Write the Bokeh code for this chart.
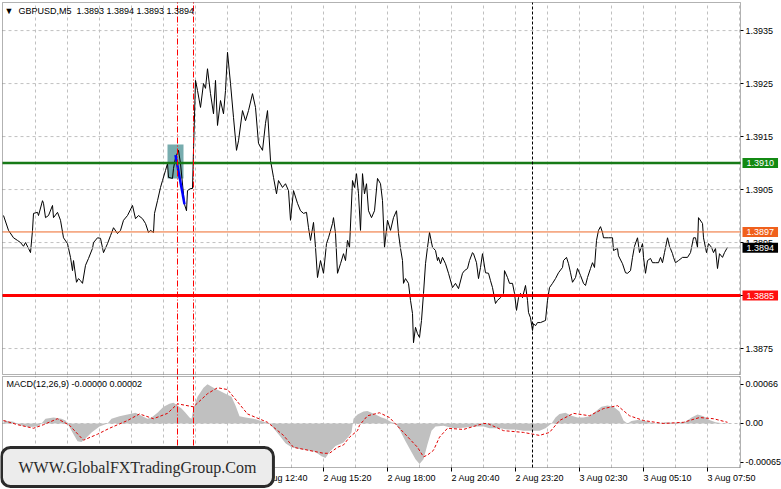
from bokeh.plotting import figure
from bokeh.layouts import column
from bokeh.models import Range1d, FixedTicker, Label, BoxAnnotation, NumeralTickFormatter
from bokeh.embed import file_html
from bokeh.resources import INLINE

# ---------------- data ----------------
price_bar = [0, 2.5, 5, 7, 8.5, 10, 11, 12.5, 13.5, 14.5, 15, 17, 17.5, 19.5, 20, 21, 22.5, 24.5, 25, 27,
             28.5, 30, 32, 33.5, 34.5, 35, 36.5, 37.5, 38.5, 39.5, 41, 42.5, 44.5, 45, 47, 48.5, 50, 52, 53.5, 55,
             57, 58.5, 60, 62, 64.5, 66, 67.5, 69.5, 71, 72.5, 73.5, 75, 75.5, 77, 78.5, 79.5, 81, 82, 82.5, 84.5,
             85, 86, 87.5, 88.5, 90.5, 91.5, 92, 93.5, 94.5, 95, 96, 97, 98.5, 100, 101, 102, 103.5, 105, 106, 107,
             108.5, 110, 111, 112, 113.5, 115, 116.5, 117.5, 119.5, 121, 122.5, 124.5, 126, 127.5, 129.5, 131, 132,
             133.5, 135, 136.5, 137.5, 139.5, 141, 142.5, 143.5, 145, 147, 148.5, 150, 151.5, 152.5, 153.5, 155, 156,
             157, 158.5, 160, 161.5, 162.5, 164.5, 165, 166, 167, 168.5, 170, 171, 172, 173, 174.5, 175.5, 176.5,
             177.5, 178.5, 179.5, 180.5, 181.5, 182.5, 184, 185.5, 187, 188.5, 189.5, 190.5, 192, 193.5, 195, 196.5,
             197.5, 198.5, 199.5, 200, 201, 202.5, 203.5, 204.5, 205, 206, 207, 208, 209, 210, 211, 212, 213, 214.5,
             216, 217, 217.5, 218.5, 219.5, 221, 222.5, 224.5, 226, 227.5, 229.5, 230.5, 232, 233, 234.5, 235, 236.5,
             237.5, 238.5, 239.5, 241, 242.5, 243.5, 244.5, 246, 247, 248.5, 250, 250.5, 252, 253, 254.5, 255.5,
             256.5, 257.5, 258.5, 259.5, 261, 262, 262.5, 263.5, 264.5, 265, 266, 267, 268.5, 271, 272, 273, 274.5,
             276, 277.5, 279.5, 280, 281.5, 282.5, 283.5, 284.5, 286, 287, 288.5, 290, 291, 292, 293.5, 294.5, 295.5,
             296.5, 297.5, 298.5, 299.5, 300, 302.5, 304.5, 305, 307, 307.5, 309.5, 311, 312, 313.5, 314.5, 315.5,
             317, 318, 319.5, 320, 321, 322, 323.5, 324.5, 326, 327.5, 328.5, 329.5, 330.5, 332, 333, 334.5, 335, 336,
             337.5, 339.5, 342, 343.5, 345, 346, 347, 347.5, 349.5, 350, 351.5, 352.5, 354, 355, 356, 357, 358, 359.5,
             360.5, 362]
price = [1.39001, 1.38973, 1.38959, 1.38954, 1.38950, 1.38943, 1.38950, 1.38939, 1.38931, 1.38973, 1.39005,
         1.39007, 1.39001, 1.39029, 1.39024, 1.38997, 1.39001, 1.39020, 1.38997, 1.39007, 1.38992, 1.38959,
         1.38948, 1.38922, 1.38897, 1.38916, 1.38875, 1.38882, 1.38878, 1.38873, 1.38907, 1.38920, 1.38939,
         1.38950, 1.38959, 1.38958, 1.38931, 1.38948, 1.38963, 1.38978, 1.38967, 1.38973, 1.38992, 1.39001,
         1.39020, 1.38995, 1.39001, 1.38995, 1.38986, 1.38969, 1.38973, 1.38969, 1.39005, 1.39029, 1.39054,
         1.39067, 1.39086, 1.39099, 1.39073, 1.39071, 1.39090, 1.39110, 1.39124, 1.39099, 1.39022, 1.39010,
         1.39048, 1.39052, 1.39052, 1.39124, 1.39256, 1.39237, 1.39205, 1.39250, 1.39241, 1.39278, 1.39231,
         1.39193, 1.39256, 1.39171, 1.39218, 1.39193, 1.39237, 1.39309, 1.39250, 1.39186, 1.39124, 1.39142,
         1.39199, 1.39180, 1.39199, 1.39231, 1.39205, 1.39137, 1.39124, 1.39175, 1.39199, 1.39105, 1.39073,
         1.39042, 1.39067, 1.39054, 1.39061, 1.39048, 1.38992, 1.39048, 1.39024, 1.39010, 1.39005, 1.39007,
         1.38978, 1.38954, 1.38988, 1.38941, 1.38884, 1.38916, 1.38892, 1.38948, 1.38959, 1.38986, 1.38997,
         1.38967, 1.38892, 1.38910, 1.38929, 1.38916, 1.38954, 1.38941, 1.39067, 1.39054, 1.39080, 1.39042,
         1.38973, 1.39080, 1.39042, 1.39061, 1.39010, 1.38997, 1.39010, 1.39071, 1.39061, 1.39029, 1.38941,
         1.38992, 1.38973, 1.38997, 1.39010, 1.38967, 1.38939, 1.38916, 1.38873, 1.38882, 1.38873, 1.38841,
         1.38816, 1.38761, 1.38790, 1.38778, 1.38771, 1.38803, 1.38854, 1.38910, 1.38941, 1.38969, 1.38941,
         1.38935, 1.38916, 1.38922, 1.38910, 1.38922, 1.38910, 1.38892, 1.38865, 1.38873, 1.38863, 1.38892,
         1.38897, 1.38901, 1.38916, 1.38931, 1.38929, 1.38912, 1.38882, 1.38903, 1.38929, 1.38893, 1.38892,
         1.38878, 1.38865, 1.38835, 1.38841, 1.38846, 1.38854, 1.38897, 1.38884, 1.38873, 1.38873, 1.38854,
         1.38822, 1.38846, 1.38854, 1.38846, 1.38869, 1.38841, 1.38818, 1.38808, 1.38784, 1.38797, 1.38793,
         1.38799, 1.38799, 1.38803, 1.38841, 1.38865, 1.38873, 1.38882, 1.38893, 1.38903, 1.38916, 1.38922,
         1.38910, 1.38893, 1.38875, 1.38884, 1.38901, 1.38888, 1.38873, 1.38869, 1.38884, 1.38901, 1.38912,
         1.38903, 1.38954, 1.38973, 1.38980, 1.38969, 1.38959, 1.38959, 1.38959, 1.38935, 1.38939, 1.38925,
         1.38910, 1.38893, 1.38892, 1.38897, 1.38922, 1.38943, 1.38959, 1.38931, 1.38948, 1.38922, 1.38892,
         1.38916, 1.38920, 1.38912, 1.38912, 1.38912, 1.38922, 1.38912, 1.38931, 1.38959, 1.38943, 1.38929,
         1.38922, 1.38912, 1.38916, 1.38922, 1.38922, 1.38931, 1.38959, 1.38959, 1.38941, 1.38997, 1.38986,
         1.38959, 1.38931, 1.38948, 1.38941, 1.38931, 1.38939, 1.38901, 1.38929, 1.38922, 1.38931, 1.38941]

move_bar = [86, 90.5]
move_price = [1.39115, 1.39022]

zone_left = [82]
zone_right = [90]
zone_bottom = [1.39071]
zone_top = [1.39135]

level_prices = [1.3910, 1.3897, 1.3894, 1.3885]
level_labels = ["1.3910", "1.3897", "1.3894", "1.3885"]

signal_bars = [87, 95]
separator_bars = [264.5]

price_ticks = [1.3875, 1.3885, 1.3895, 1.3905, 1.3915, 1.3925, 1.3935]

hist_bar = [0, 5, 8, 13, 17, 19, 21, 25, 29, 31, 32, 34, 37, 39, 41, 44, 48, 52, 54, 58, 62, 66, 69, 72, 74, 77,
            80, 83, 85, 87, 89, 91, 93, 94, 95, 97, 100, 102, 105, 108, 111, 114, 116, 118, 121, 125, 128, 131,
            133, 135, 138, 141, 144, 148, 152, 156, 159, 161, 163, 166, 170, 173, 174, 175, 177, 180, 182, 186,
            189, 191, 194, 196, 198, 201, 203, 206, 208, 210, 212, 214, 216, 220, 225, 230, 235, 240, 243, 248,
            252, 256, 260, 264, 268, 271, 274, 276, 278, 281, 284, 287, 290, 293, 296, 299, 302, 305, 308, 310,
            312, 314, 317, 320, 323, 327, 331, 336, 341, 344, 347, 350, 353, 356, 360, 362]
hist_val = [0.00005, 0.00003, -0.00003, -0.00006, -0.00005, 0.0, 0.00008, 0.0001, 0.00008, 0.00005, 0.0,
            -0.00012, -0.0003, -0.00031, -0.00025, -0.00015, -0.00005, 0.0, 0.00008, 0.00012, 0.00015, 0.00018,
            0.00013, 0.00008, 0.0001, 0.00018, 0.00028, 0.00033, 0.00035, 0.0003, 0.00025, 0.00018, 0.0001,
            0.00008, 0.00025, 0.00045, 0.0006, 0.00066, 0.0006, 0.00055, 0.0005, 0.00045, 0.0003, 0.00012,
            0.0001, 0.00008, 0.00005, 0.00002, 0.0, -0.00008, -0.0002, -0.00033, -0.0004, -0.00043, -0.00045,
            -0.00048, -0.00055, -0.00058, -0.00048, -0.00038, -0.00032, -0.0002, -0.00015, 0.00008, 0.00015,
            0.0002, 0.00021, 0.00015, 0.0001, 0.00008, 0.00002, 0.0, -0.0001, -0.0003, -0.00042, -0.0006,
            -0.00068, -0.0006, -0.00035, -0.00012, -0.00005, -0.00004, -0.00008, -0.00007, -0.00005, -0.00005,
            -0.00008, -0.00008, -0.0001, -0.0001, -0.00012, -0.00012, -0.00012, -0.00008, 0.0, 0.0001, 0.00016,
            0.00018, 0.00013, 0.0001, 0.0001, 0.00012, 0.0002, 0.00028, 0.0003, 0.00028, 0.0002, 0.00005, 0.0,
            0.00004, 0.00006, 0.00005, 0.00002, 0.0, 0.00002, 0.00001, 0.00003, 0.0001, 0.00015, 0.00012,
            0.00006, 0.00002, 0.0, -0.00001]

sig_bar = [0, 7, 15, 20, 27, 33, 40, 47, 53, 62, 68, 75, 82, 87, 95, 102, 107, 112, 122, 132, 140, 145, 157,
           160, 163, 167, 170, 173, 177, 178, 182, 188, 193, 200, 207, 210, 212, 215, 218, 222, 230, 232, 240,
           242, 250, 260, 268, 273, 278, 285, 293, 300, 307, 313, 320, 330, 340, 348, 355, 362]
sig_val = [0.00005, -0.00002, -0.00008, -0.00002, 0.00008, -0.00003, -0.00028, -0.00018, -0.00008, 0.00005,
           0.00016, 0.00008, 0.00017, 0.00033, 0.00028, 0.0005, 0.0006, 0.00057, 0.00016, 0.00002, -0.0002,
           -0.0004, -0.00048, -0.0005, -0.0005, -0.0004, -0.00036, -0.00023, -0.00012, -0.00003, 0.00013,
           0.00018, 0.0001, -0.00015, -0.0004, -0.00056, -0.00053, -0.00045, -0.00023, -0.00008, -0.0001,
           -0.00008, 0.0, 0.0, -0.00012, -0.00015, -0.0002, -0.00015, 0.00005, 0.00017, 0.00013, 0.00025,
           0.0003, 0.00013, 0.00005, 0.0, 0.00002, 0.0001, 0.00008, 0.00002]

macd_ticks = [-0.00065, 0.0, 0.00066]
macd_tick_labels = ["-0.00065", "0.00", "0.00066"]

time_tick_bars = [128, 160, 192, 224, 256, 288, 320, 352]
time_tick_labels = ["2 Aug 12:40", "2 Aug 15:20", "2 Aug 18:00", "2 Aug 20:40", "2 Aug 23:20",
                    "3 Aug 02:30", "3 Aug 05:10", "3 Aug 07:50"]

grid_bars = list(range(16, 369, 16))

title_text = "\u25bc\u00a0 GBPUSD,M5\u00a0 1.3893 1.3894 1.3893 1.3894"
macd_text = "MACD(12,26,9) -0.00000 0.00002"
watermark_text = "WWW.GlobalFXTradingGroup.Com"

# panel extents (data units)
BAR_LO, BAR_HI = -0.5, 368.5
PRICE_LO, PRICE_HI = 1.38701, 1.39403
MACD_LO, MACD_HI = -0.000739, 0.000789

# ---------------- styling ----------------
FONT = "Liberation Sans"
GRID = "#c0c0c0"
SIGNAL_RED = "#ff0000"
W = 781
PX_PER_BAR = 2.0
x_start = BAR_LO - 2 / PX_PER_BAR
x_range = Range1d(x_start, x_start + W / PX_PER_BAR)


def axis_style(ax, tick_out):
    ax.axis_line_color = None
    ax.major_tick_line_color = "black"
    ax.major_tick_out = tick_out
    ax.major_tick_in = 0
    ax.minor_tick_out = 0
    ax.minor_tick_in = 0
    ax.major_label_text_font = FONT
    ax.major_label_text_font_size = "9px"
    ax.major_label_text_color = "black"


def base(p):
    p.outline_line_color = None
    p.background_fill_color = "white"
    p.border_fill_color = "white"
    p.grid.visible = False


# ---------------- main price panel ----------------
H1 = 375
py = (PRICE_HI - PRICE_LO) / 372          # box spans canvas rows 2..374
p1 = figure(width=W, height=H1, x_range=x_range,
            y_range=Range1d(PRICE_LO - 1 * py, PRICE_HI + 2 * py),
            y_axis_location="right", x_axis_location=None, toolbar_location=None,
            output_backend="svg", min_border=0)
base(p1)
ya = p1.yaxis[0]
ya.fixed_location = BAR_HI
ya.ticker = FixedTicker(ticks=price_ticks)
ya.formatter = NumeralTickFormatter(format="0.0000")
ya.major_label_standoff = 2
axis_style(ya, 3)

p1.segment(x0=grid_bars, x1=grid_bars, y0=PRICE_LO, y1=PRICE_HI,
           line_color=GRID, line_dash="3 3", line_width=1)
p1.segment(x0=BAR_LO, x1=BAR_HI, y0=price_ticks, y1=price_ticks,
           line_color=GRID, line_dash="3 3", line_width=1)

p1.quad(left=zone_left, right=zone_right, bottom=zone_bottom, top=zone_top,
        fill_color="#5f9ea0", fill_alpha=0.85, line_color=None)
p1.line(price_bar, price, line_color="black", line_width=1)
p1.line(move_bar, move_price, line_color="#0000ff", line_width=2.5)

level_colors = ["#177a17", "#ee6a2a", "#c0c0c0", "#ff0000"]
level_widths = [2.5, 1, 1, 3]
tag_colors = ["#138a13", "#f0601c", "#000000", "#ff1010"]
p1.segment(x0=BAR_LO, x1=BAR_HI, y0=level_prices, y1=level_prices,
           line_color=level_colors, line_width=level_widths)

p1.segment(x0=signal_bars, x1=signal_bars, y0=PRICE_LO, y1=PRICE_HI,
           line_color=SIGNAL_RED, line_width=1, line_dash="6 2 1 2")
p1.segment(x0=separator_bars, x1=separator_bars, y0=PRICE_LO, y1=PRICE_HI,
           line_color="black", line_width=1, line_dash="3 2")

p1.add_layout(BoxAnnotation(left=BAR_LO, right=BAR_HI, bottom=PRICE_LO, top=PRICE_HI,
                            fill_color=None, fill_alpha=0, line_color="black", line_width=1))

for lv, txt, col in zip(level_prices, level_labels, tag_colors):
    p1.add_layout(Label(x=742, x_units="screen", y=lv, text=txt,
                        text_font=FONT, text_font_size="9px", text_color="white",
                        text_align="left", text_baseline="middle",
                        background_fill_color=col, padding=(4, 2)))

p1.add_layout(Label(x=4, y=H1 - 10, x_units="screen", y_units="screen", text=title_text,
                    text_font=FONT, text_font_size="9px", text_color="black",
                    text_align="left", text_baseline="middle"))

# ---------------- MACD panel ----------------
H2 = 114
my = (MACD_HI - MACD_LO) / 91            # box spans canvas rows 376..467
p2 = figure(width=W, height=H2, x_range=x_range,
            y_range=Range1d(MACD_LO - 22 * my, MACD_HI + 1 * my),
            y_axis_location="right", toolbar_location=None, output_backend="svg", min_border=0)
base(p2)

p2.segment(x0=grid_bars, x1=grid_bars, y0=MACD_LO, y1=MACD_HI,
           line_color=GRID, line_dash="3 3", line_width=1)
p2.segment(x0=[BAR_LO], x1=[BAR_HI], y0=[0.0], y1=[0.0],
           line_color=GRID, line_dash="3 3", line_width=1)

p2.varea(x=hist_bar, y1=0, y2=hist_val, fill_color="#c0c0c0")
p2.line(sig_bar, sig_val, line_color="#e00000", line_width=1, line_dash="3 2")

p2.segment(x0=signal_bars, x1=signal_bars, y0=MACD_LO, y1=MACD_HI,
           line_color=SIGNAL_RED, line_width=1, line_dash="6 2 1 2")
p2.segment(x0=separator_bars, x1=separator_bars, y0=MACD_LO, y1=MACD_HI,
           line_color="black", line_width=1, line_dash="3 2")

p2.add_layout(BoxAnnotation(left=BAR_LO, right=BAR_HI, bottom=MACD_LO, top=MACD_HI,
                            fill_color=None, fill_alpha=0, line_color="black", line_width=1))

ya2 = p2.yaxis[0]
ya2.fixed_location = BAR_HI
ya2.ticker = FixedTicker(ticks=macd_ticks)
ya2.major_label_overrides = {v: s for v, s in zip(macd_ticks, macd_tick_labels)}
ya2.major_label_standoff = 2
axis_style(ya2, 3)

xa = p2.xaxis[0]
xa.fixed_location = MACD_LO
xa.ticker = FixedTicker(ticks=time_tick_bars)
xa.major_label_overrides = {b: s for b, s in zip(time_tick_bars, time_tick_labels)}
xa.major_label_orientation = -1e-6   # numeric angle -> labels start at the tick
xa.major_label_standoff = 6
axis_style(xa, 4)

p2.add_layout(Label(x=6, y=H2 - 8, x_units="screen", y_units="screen", text=macd_text,
                    text_font=FONT, text_font_size="9px", text_color="black",
                    text_align="left", text_baseline="middle"))

p2.add_layout(Label(x=1, y=22.5, x_units="screen", y_units="screen", text=watermark_text,
                    text_font="Liberation Serif", text_font_size="16px", text_color="#2a2a2a",
                    text_align="left", text_baseline="middle",
                    background_fill_color="#ececec", border_line_color="#2b2b2b",
                    border_line_width=3, border_radius=9, padding=(17, 11)))

layout = column(p1, p2, spacing=0)
open("out.html", "w").write(file_html(layout, INLINE))
